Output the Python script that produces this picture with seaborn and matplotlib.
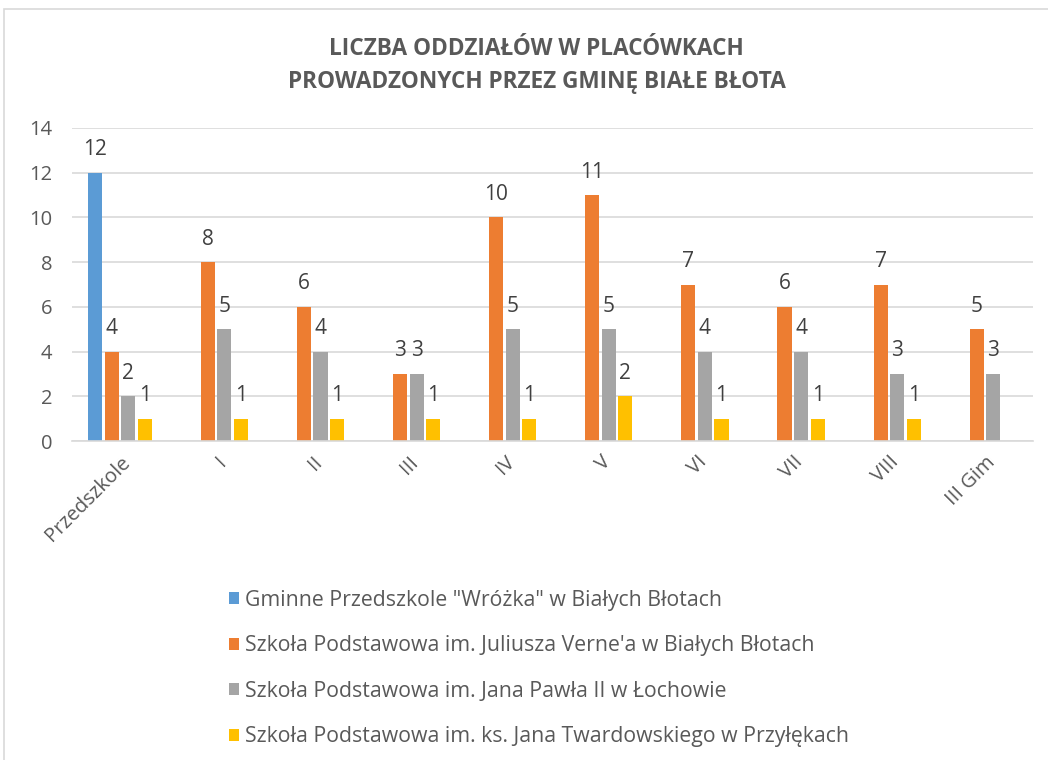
import numpy as np
import pandas as pd
import matplotlib
matplotlib.use("Agg")
import matplotlib.pyplot as plt
import seaborn as sns
from matplotlib.patches import Patch, Rectangle

categories = ["Przedszkole", "I", "II", "III", "IV", "V", "VI", "VII", "VIII", "III Gim"]
series = [
    'Gminne Przedszkole "Wróżka" w Białych Błotach',
    "Szkoła Podstawowa im. Juliusza Verne'a w Białych Błotach",
    "Szkoła Podstawowa im. Jana Pawła II w Łochowie",
    "Szkoła Podstawowa im. ks. Jana Twardowskiego w Przyłękach",
]
przedszkole_wrozka = [12, np.nan, np.nan, np.nan, np.nan, np.nan, np.nan, np.nan, np.nan, np.nan]
sp_verne = [4, 8, 6, 3, 10, 11, 7, 6, 7, 5]
sp_lochowo = [2, 5, 4, 3, 5, 5, 4, 4, 3, 3]
sp_przyleki = [1, 1, 1, 1, 1, 2, 1, 1, 1, np.nan]
colors = ["#5b9bd5", "#ed7d31", "#a5a5a5", "#ffc000"]

# long format for seaborn
rows = []
for name, vals in zip(series, [przedszkole_wrozka, sp_verne, sp_lochowo, sp_przyleki]):
    for cat, v in zip(categories, vals):
        rows.append({"kategoria": cat, "placowka": name, "liczba": v})
df = pd.DataFrame(rows).dropna()

sns.set_style("white")
plt.rcParams["font.family"] = ["Open Sans", "DejaVu Sans"]

fig = plt.figure(figsize=(10.48, 7.6), dpi=100)
ax = fig.add_axes([0.0687, 0.4197, 0.917, 0.4119])

sns.barplot(data=df, x="kategoria", y="liczba", hue="placowka",
            order=categories, hue_order=series, palette=colors,
            width=0.69, gap=0.15, dodge=True, legend=False, ax=ax,
            saturation=1, errorbar=None, linewidth=0)

for cont in ax.containers:
    ax.bar_label(cont, fmt="%g", padding=9, fontsize=15, color="#404040")

ax.set_ylim(0, 14)
ax.set_yticks(range(0, 15, 2))
ax.set_xlim(-0.5, len(categories) - 0.5)
ax.grid(axis="y", color="#d9d9d9", linewidth=1.2)
ax.set_axisbelow(True)
for s in ["top", "right", "left"]:
    ax.spines[s].set_visible(False)
ax.spines["bottom"].set_color("#d9d9d9")
ax.spines["bottom"].set_linewidth(1.2)
ax.tick_params(axis="both", length=0, labelsize=14.5, labelcolor="#595959")
ax.tick_params(axis="x", pad=8)
ax.tick_params(axis="y", pad=14)
ax.set_xlabel("")
ax.set_ylabel("")
plt.setp(ax.get_xticklabels(), rotation=45, ha="right", rotation_mode="anchor")

fig.text(0.512, 0.9138, "LICZBA ODDZIAŁÓW W PLACÓWKACH\nPROWADZONYCH PRZEZ GMINĘ BIAŁE BŁOTA",
         ha="center", va="center", fontsize=16.3, fontweight="bold", color="#595959",
         linespacing=1.45)

handles = [Patch(facecolor=c, edgecolor="none") for c in colors]
fig.legend(handles, series, loc="upper left", bbox_to_anchor=(0.2, 0.249),
           frameon=False, fontsize=15.3, labelcolor="#595959",
           handlelength=0.5, handleheight=0.5, handletextpad=0.25,
           labelspacing=1.15)

# chart border
fig.patches.append(Rectangle((4 / 1048, -0.1), 1.2, 1 - 9 / 760 + 0.1,
                             transform=fig.transFigure, fill=False,
                             edgecolor="#d9d9d9", linewidth=1.2))

fig.savefig("out.png", dpi=100)
